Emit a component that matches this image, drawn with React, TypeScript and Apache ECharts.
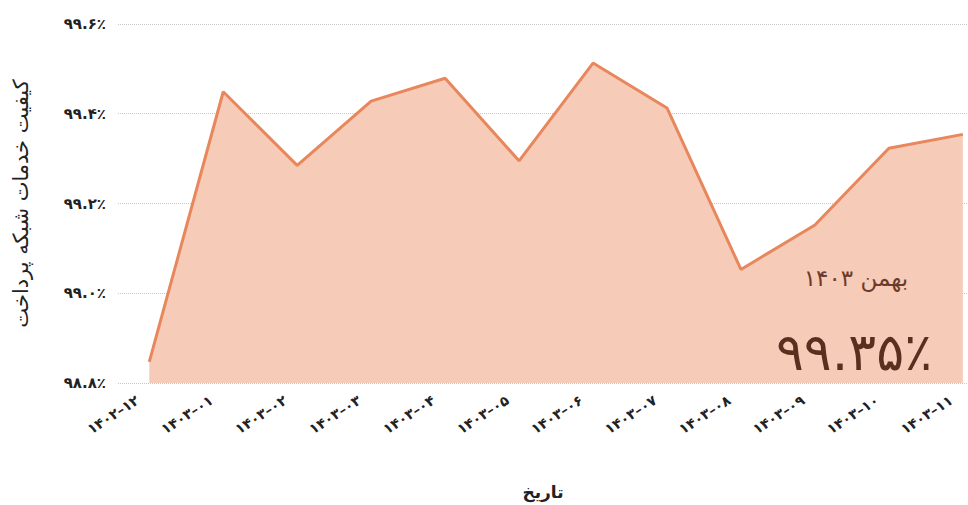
import React, { useEffect, useRef } from "react";
import * as echarts from "echarts";

const categories = [
  "۱۴۰۲–۱۲", "۱۴۰۳–۰۱", "۱۴۰۳–۰۲", "۱۴۰۳–۰۳", "۱۴۰۳–۰۴", "۱۴۰۳–۰۵",
  "۱۴۰۳–۰۶", "۱۴۰۳–۰۷", "۱۴۰۳–۰۸", "۱۴۰۳–۰۹", "۱۴۰۳–۱۰", "۱۴۰۳–۱۱",
];
const values = [
  98.847, 99.449, 99.285, 99.428, 99.479, 99.295,
  99.513, 99.413, 99.053, 99.152, 99.323, 99.354,
];
const yTicks = [98.8, 99.0, 99.2, 99.4, 99.6];
const yTickLabels = ["۹۸.۸٪", "۹۹.۰٪", "۹۹.۲٪", "۹۹.۴٪", "۹۹.۶٪"];
const yAxisTitle = "کیفیت خدمات شبکه پرداخت";
const xAxisTitle = "تاریخ";
const annotationMonth = "بهمن ۱۴۰۳";
const annotationValue = "۹۹.۳۵٪";

const FONT = "DejaVu Sans";

export default function App() {
  const ref = useRef<HTMLDivElement>(null);
  useEffect(() => {
    if (!ref.current) return;
    const chart = echarts.init(ref.current, undefined, { renderer: "svg" });
    const idx = categories.map((_, i) => i);
    chart.setOption({
      animation: false,
      backgroundColor: "#ffffff",
      grid: { left: 118, right: 0, top: 24, bottom: 122, containLabel: false, outerBoundsMode: "none" },
      xAxis: {
        type: "value",
        min: -0.423,
        max: 11.07,
        axisLine: { show: false },
        axisTick: { show: false },
        splitLine: { show: false },
        axisLabel: {
          customValues: idx,
          rotate: 33,
          margin: 8,
          padding: [0, 14, 0, 0],
          fontFamily: FONT,
          fontSize: 14,
          fontWeight: "bold",
          color: "#222",
          formatter: (v: number) => categories[Math.round(v)] ?? "",
        },
        name: xAxisTitle,
        nameLocation: "middle",
        nameGap: 100,
        nameTextStyle: { fontFamily: FONT, fontSize: 17, fontWeight: "bold", color: "#222" },
      },
      yAxis: {
        type: "value",
        min: 98.8,
        max: 99.6,
        interval: 0.2,
        axisLine: { show: false },
        axisTick: { show: false },
        splitLine: { show: true, lineStyle: { type: "dotted", color: "#c8c8c8", width: 1 } },
        axisLabel: {
          margin: 12,
          fontFamily: FONT,
          fontSize: 15,
          fontWeight: "bold",
          color: "#222",
          formatter: (v: number) => {
            const i = yTicks.findIndex((t) => Math.abs(t - v) < 1e-6);
            return i >= 0 ? yTickLabels[i] : "";
          },
        },
        name: yAxisTitle,
        nameLocation: "middle",
        nameGap: 87,
        nameRotate: 90,
        nameTextStyle: { fontFamily: FONT, fontSize: 21, color: "#222" },
      },
      series: [
        {
          type: "line",
          data: values.map((v, i) => [i, v]),
          showSymbol: false,
          symbol: "none",
          lineStyle: { color: "#e8875c", width: 3 },
          itemStyle: { color: "#e8875c" },
          areaStyle: { color: "#f6cbb8", opacity: 1, origin: "start" },
          z: 2,
        },
      ],
      graphic: [
        {
          type: "text",
          x: 856,
          y: 278,
          z: 10,
          style: {
            text: annotationMonth,
            fontFamily: FONT,
            fontSize: 23,
            fill: "#6d3b2b",
            align: "center",
            verticalAlign: "middle",
          },
        },
        {
          type: "text",
          x: 854,
          y: 352,
          z: 10,
          style: {
            text: annotationValue,
            fontFamily: FONT,
            fontSize: 52,
            fill: "#5c2e1f",
            align: "center",
            verticalAlign: "middle",
          },
        },
      ],
    });
    return () => chart.dispose();
  }, []);
  return (
    <div
      ref={ref}
      style={{ position: "absolute", left: 0, top: 0, width: 968, height: 505 }}
    />
  );
}
